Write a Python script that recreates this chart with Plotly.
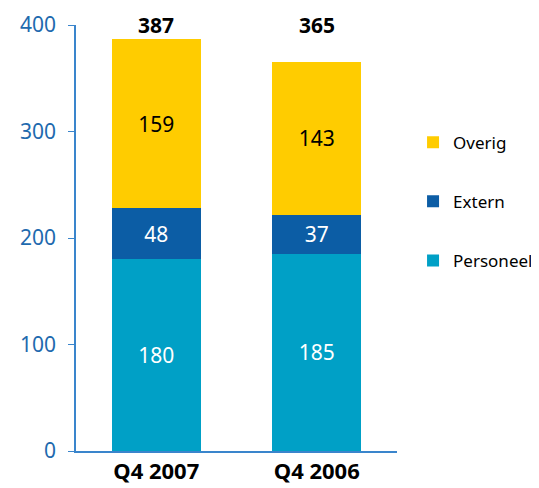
import plotly.graph_objects as go

categories = ["Q4 2007", "Q4 2006"]
personeel = [180, 185]
extern = [48, 37]
overig = [159, 143]
totals = [387, 365]
y_ticks = [0, 100, 200, 300, 400]

FONT = "Noto Sans"
fig = go.Figure()

series = [
    ("Personeel", personeel, "#00A0C6", "white", 3),
    ("Extern", extern, "#0C5DA5", "white", 2),
    ("Overig", overig, "#FFCC00", "black", 1),
]
for name, vals, col, tcol, rank in series:
    fig.add_trace(go.Bar(
        x=categories, y=vals, name=name, legendgroup=name, legendrank=rank,
        marker=dict(color=col, line=dict(width=0)),
        text=[str(v) for v in vals], textposition="inside",
        insidetextanchor="middle",
        textfont=dict(color=tcol, size=21, family=FONT),
        width=0.555,
    ))

# totals sit on one line at the top of the chart
for c, t in zip(categories, totals):
    fig.add_annotation(x=c, y=1, yref="paper", text=f"<b>{t}</b>",
                       showarrow=False, yanchor="middle",
                       font=dict(size=21, color="black", family=FONT))

# page body has an 8px default margin; size the figure to fit the window
fig.update_layout(
    width=531, height=480,
    barmode="stack",
    margin=dict(l=68, r=142, t=17, b=37, autoexpand=False),
    plot_bgcolor="white", paper_bgcolor="white",
    font=dict(family=FONT),
    showlegend=True,
    legend=dict(x=1.05, y=0.766, xanchor="left", yanchor="top",
                traceorder="grouped", tracegroupgap=34,
                font=dict(size=17, color="black", family=FONT),
                bgcolor="rgba(0,0,0,0)"),
)
fig.update_xaxes(range=[-0.5, 1.5], showline=True, linecolor="#3A85CC",
                 linewidth=1.5, ticks="", showgrid=False,
                 tickfont=dict(size=22, color="black", family=FONT),
                 tickprefix="<b>", ticksuffix="</b>")
fig.update_yaxes(range=[0, 400], tickvals=y_ticks, showline=True,
                 linecolor="#3A85CC", linewidth=1.5, ticks="outside",
                 ticklen=6, tickcolor="#3A85CC", showgrid=False,
                 zeroline=False, ticklabelstandoff=8,
                 tickfont=dict(size=21, color="#1E6AAE", family=FONT))

fig.write_html("out.html")
